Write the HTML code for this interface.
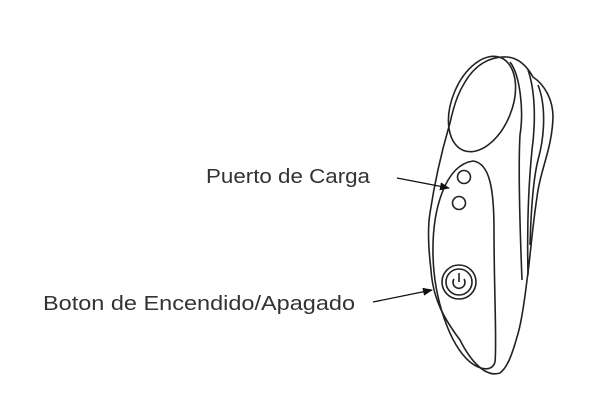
<!DOCTYPE html>
<html><head><style>
body{margin:0;background:#fff;width:600px;height:400px;overflow:hidden}
svg{position:absolute;left:0;top:0}
</style></head><body>
<svg width="600" height="400" viewBox="0 0 600 400">
<defs><marker id="a" markerWidth="10" markerHeight="8" refX="9" refY="4" orient="auto" markerUnits="userSpaceOnUse"><path d="M0,0 L10,4 L0,8 Z" fill="#111"/></marker></defs>
<g fill="none" stroke="#222" stroke-width="1.6">
<path d="M507,57 C520,58 528,68 533,77 C545,85 553,100 553,117 C552,150 540,170 537,197 C532,230 530,260 527,280 C524,305 521,325 517,337 C512,355 507,368 500,373 C485,378 470,360 460,340 C445,320 433,300 431,270 C428,245 428,225 430,213 C435,180 442,150 450,123 C455,100 460,90 465,82 C475,65 490,56 507,57 Z"/>
<ellipse cx="482" cy="104" rx="30" ry="50" transform="rotate(22 482 104)"/>
<path d="M510,62 C520,75 524,110 520,135 C518,170 520,230 522,280"/>
<path d="M528,70 C535,90 536,120 532,150 C528,190 527,230 528,275"/>
<path d="M538,85 C546,105 545,135 538,160 C533,180 531,210 530,245"/>
<path d="M473,161 C490,163 494,190 494,230 C494,290 497,345 495,362 C492,372 480,370 470,362 C450,345 434,300 433,255 C432,210 445,165 473,161 Z"/>
<circle cx="464" cy="177" r="6.5"/>
<circle cx="459" cy="203" r="6.5"/>
<circle cx="459" cy="282" r="17"/>
<circle cx="459" cy="282" r="13"/>
<path d="M454,279 A6,6 0 1 0 464,279"/>
<line x1="459" y1="273" x2="459" y2="282"/>
</g>
<line x1="397" y1="178" x2="449" y2="188" stroke="#111" stroke-width="1.3" marker-end="url(#a)"/>
<line x1="373" y1="302" x2="432" y2="290" stroke="#111" stroke-width="1.3" marker-end="url(#a)"/>
<g font-family="Liberation Sans, sans-serif" font-size="20" fill="#333">
<text x="206" y="183" textLength="164" lengthAdjust="spacingAndGlyphs">Puerto de Carga</text>
<text x="43" y="310" textLength="312" lengthAdjust="spacingAndGlyphs">Boton de Encendido/Apagado</text>
</g>
</svg>
</body></html>
